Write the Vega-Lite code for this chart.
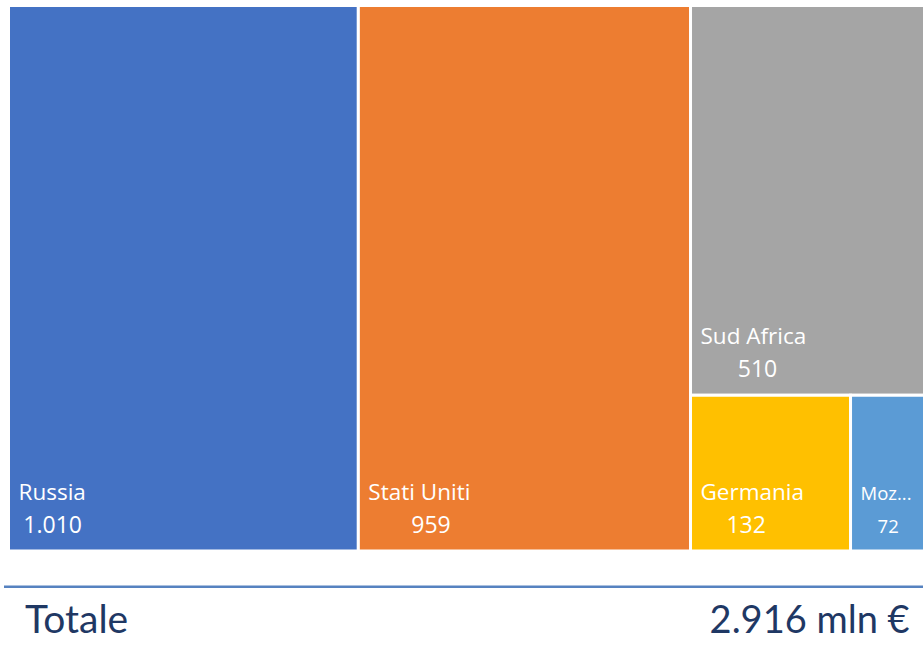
{
  "$schema": "https://vega.github.io/schema/vega-lite/v6.json",
  "width": 923,
  "height": 649,
  "padding": 0,
  "autosize": {"type": "none"},
  "background": "white",
  "config": {
    "view": {"stroke": null},
    "locale": {"number": {"decimal": ",", "thousands": ".", "grouping": [3], "currency": ["", " €"]}}
  },
  "layer": [
    {
      "data": {
        "values": [
          {"name": "Russia", "label": "Russia", "value": 1010, "col": 1, "row": 1},
          {"name": "Stati Uniti", "label": "Stati Uniti", "value": 959, "col": 2, "row": 1},
          {"name": "Sud Africa", "label": "Sud Africa", "value": 510, "col": 3, "row": 1},
          {"name": "Germania", "label": "Germania", "value": 132, "col": 3, "row": 2},
          {"name": "Mozambico", "label": "Moz...", "value": 72, "col": 3, "row": 2}
        ]
      },
      "transform": [
        {"joinaggregate": [{"op": "sum", "field": "value", "as": "colTotal"}], "groupby": ["col"]},
        {"joinaggregate": [{"op": "sum", "field": "value", "as": "rowTotal"}], "groupby": ["col", "row"]},
        {"window": [{"op": "sum", "field": "value", "as": "colCum"}], "sort": [{"field": "col", "order": "ascending"}], "frame": [null, 0]},
        {"window": [{"op": "sum", "field": "value", "as": "rowCum"}], "groupby": ["col"], "sort": [{"field": "row", "order": "ascending"}], "frame": [null, 0]},
        {"window": [{"op": "sum", "field": "value", "as": "itemCum"}], "groupby": ["col", "row"], "sort": [{"field": "value", "order": "descending"}], "frame": [null, 0], "ignorePeers": true},
        {"calculate": "datum.colCum - datum.colTotal + (datum.itemCum - datum.value) / datum.rowTotal * datum.colTotal", "as": "x0"},
        {"calculate": "datum.colCum - datum.colTotal + datum.itemCum / datum.rowTotal * datum.colTotal", "as": "x1"},
        {"calculate": "(datum.rowCum - datum.rowTotal) / datum.colTotal", "as": "y0"},
        {"calculate": "datum.rowCum / datum.colTotal", "as": "y1"},
        {"calculate": "datum.x0 + (10 + length(datum.label) * (datum.value < 100 ? 4.6 : 5.7)) / 0.34637", "as": "xv"}
      ],
      "layer": [
        {
          "mark": {"type": "rect", "stroke": "white", "strokeWidth": 3, "clip": true},
          "encoding": {
            "x": {"field": "x0", "type": "quantitative", "scale": {"domain": [-24.54, 2640.2], "nice": false, "zero": false}, "axis": null},
            "x2": {"field": "x1"},
            "y": {"field": "y0", "type": "quantitative", "scale": {"domain": [-0.01008, 1.1797], "nice": false, "zero": false, "reverse": true}, "axis": null},
            "y2": {"field": "y1"},
            "color": {
              "field": "name", "type": "nominal", "legend": null,
              "scale": {
                "domain": ["Russia", "Stati Uniti", "Sud Africa", "Germania", "Mozambico"],
                "range": ["#4472C4", "#ED7D31", "#A5A5A5", "#FFC000", "#5B9BD5"]
              }
            }
          }
        },
        {
          "mark": {"type": "text", "align": "left", "baseline": "alphabetic", "dx": 10, "dy": -51, "font": "Open Sans", "color": "white"},
          "encoding": {
            "x": {"field": "x0", "type": "quantitative", "scale": {"domain": [-24.54, 2640.2], "nice": false, "zero": false}, "axis": null},
            "y": {"field": "y1", "type": "quantitative", "scale": {"domain": [-0.01008, 1.1797], "nice": false, "zero": false, "reverse": true}, "axis": null},
            "text": {"field": "label"},
            "size": {"condition": {"test": "datum.value < 100", "value": 18.5}, "value": 22.5}
          }
        },
        {
          "mark": {"type": "text", "align": "center", "baseline": "alphabetic", "dy": -18, "font": "Open Sans", "color": "white"},
          "encoding": {
            "x": {"field": "xv", "type": "quantitative", "scale": {"domain": [-24.54, 2640.2], "nice": false, "zero": false}, "axis": null},
            "y": {"field": "y1", "type": "quantitative", "scale": {"domain": [-0.01008, 1.1797], "nice": false, "zero": false, "reverse": true}, "axis": null},
            "text": {"field": "value", "type": "quantitative", "format": ",d"},
            "size": {"condition": {"test": "datum.value < 100", "value": 18.5}, "value": 23}
          }
        }
      ]
    },
    {
      "data": {"values": [{"from": -13, "to": 2640.2, "level": 1.0654}]},
      "mark": {"type": "rule", "color": "#5682C0", "strokeWidth": 2.5},
      "encoding": {
        "x": {"field": "from", "type": "quantitative", "scale": {"domain": [-24.54, 2640.2], "nice": false, "zero": false}, "axis": null},
        "x2": {"field": "to"},
        "y": {"field": "level", "type": "quantitative", "scale": {"domain": [-0.01008, 1.1797], "nice": false, "zero": false, "reverse": true}, "axis": null}
      }
    },
    {
      "data": {"values": [{"label": "Totale", "pos": 47.6, "level": 1.1503}]},
      "mark": {"type": "text", "align": "left", "baseline": "alphabetic", "font": "Lato", "fontSize": 39, "color": "#1F3864"},
      "encoding": {
        "x": {"field": "pos", "type": "quantitative", "scale": {"domain": [-24.54, 2640.2], "nice": false, "zero": false}, "axis": null},
        "y": {"field": "level", "type": "quantitative", "scale": {"domain": [-0.01008, 1.1797], "nice": false, "zero": false, "reverse": true}, "axis": null},
        "text": {"field": "label"}
      }
    },
    {
      "data": {"values": [{"label": "2.916 mln €", "pos": 2601.7, "level": 1.1503}]},
      "mark": {"type": "text", "align": "right", "baseline": "alphabetic", "font": "Lato", "fontSize": 38, "color": "#1F3864"},
      "encoding": {
        "x": {"field": "pos", "type": "quantitative", "scale": {"domain": [-24.54, 2640.2], "nice": false, "zero": false}, "axis": null},
        "y": {"field": "level", "type": "quantitative", "scale": {"domain": [-0.01008, 1.1797], "nice": false, "zero": false, "reverse": true}, "axis": null},
        "text": {"field": "label"}
      }
    }
  ]
}
